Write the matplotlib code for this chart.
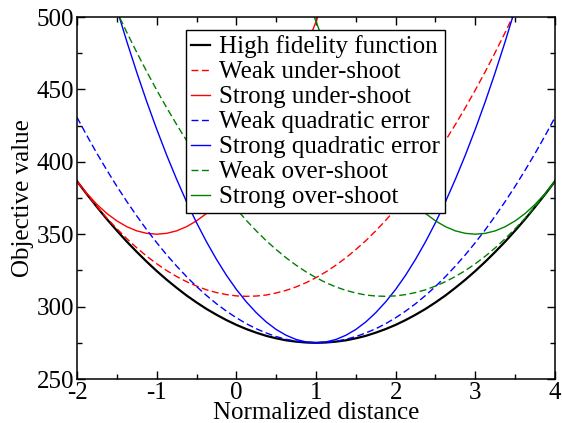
import numpy as np
import matplotlib.pyplot as plt
from matplotlib.ticker import MultipleLocator

# Normalized distance, every 0.125 from -2 to 4
dist = [-2.0, -1.875, -1.75, -1.625, -1.5, -1.375, -1.25, -1.125, -1.0, -0.875, -0.75, -0.625,
        -0.5, -0.375, -0.25, -0.125, 0.0, 0.125, 0.25, 0.375, 0.5, 0.625, 0.75, 0.875,
        1.0, 1.125, 1.25, 1.375, 1.5, 1.625, 1.75, 1.875, 2.0, 2.125, 2.25, 2.375,
        2.5, 2.625, 2.75, 2.875, 3.0, 3.125, 3.25, 3.375, 3.5, 3.625, 3.75, 3.875, 4.0]

high_fidelity = [386.6, 377.5, 368.8, 360.4, 352.5, 344.9, 337.8, 331.0, 324.6, 318.6, 313.0, 307.7,
                 302.9, 298.4, 294.4, 290.7, 287.4, 284.5, 282.0, 279.8, 278.1, 276.7, 275.8, 275.2,
                 275.0, 275.2, 275.8, 276.7, 278.1, 279.8, 282.0, 284.5, 287.4, 290.7, 294.4, 298.4,
                 302.9, 307.7, 313.0, 318.6, 324.6, 331.0, 337.8, 344.9, 352.5, 360.4, 368.8, 377.5, 386.6]

weak_under = [386.6, 377.6, 369.1, 361.1, 353.8, 346.9, 340.6, 334.8, 329.6, 324.9, 320.8, 317.2,
              314.2, 311.6, 309.7, 308.3, 307.4, 307.1, 307.3, 308.0, 309.4, 311.2, 313.6, 316.5,
              320.0, 324.0, 328.6, 333.7, 339.4, 345.5, 352.3, 359.6, 367.4, 375.8, 384.7, 394.1,
              404.2, 414.7, 425.8, 437.4, 449.6, 462.3, 475.6, 489.4, 503.8, 518.6, 534.1, 550.1, 566.6]

# strong under-shoot only on -2 .. 1.25, it leaves the top of the axes near 1
strong_under = [386.7, 378.1, 370.6, 364.3, 359.2, 355.2, 352.3, 350.6, 350.0, 350.6, 352.3, 355.2,
                359.2, 364.3, 370.6, 378.1, 386.7, 396.4, 407.3, 419.4, 432.6, 446.9, 462.4, 479.0,
                496.8, 515.7, 535.8]

weak_quad = [430.7, 418.0, 405.8, 394.2, 383.1, 372.6, 362.6, 353.1, 344.2, 335.8, 328.0, 320.7,
             313.9, 307.7, 302.0, 296.9, 292.3, 288.2, 284.7, 281.8, 279.3, 277.4, 276.1, 275.3,
             275.0, 275.3, 276.1, 277.4, 279.3, 281.8, 284.7, 288.2, 292.3, 296.9, 302.0, 307.7,
             313.9, 320.7, 328.0, 335.8, 344.2, 353.1, 362.6, 372.6, 383.1, 394.2, 405.8, 418.0, 430.7]

strong_quad = [607.1, 580.0, 554.1, 529.3, 505.6, 483.1, 461.8, 441.6, 422.6, 404.7, 388.0, 372.4,
               358.0, 344.8, 332.7, 321.7, 311.9, 303.3, 295.8, 289.4, 284.2, 280.2, 277.3, 275.6,
               275.0, 275.6, 277.3, 280.2, 284.2, 289.4, 295.8, 303.3, 311.9, 321.7, 332.7, 344.8,
               358.0, 372.4, 388.0, 404.7, 422.6, 441.6, 461.8, 483.1, 505.6, 529.3, 554.1, 580.0, 607.1]

# over-shoot curves mirror the under-shoot ones about the optimum at 1
weak_over = weak_under[::-1]
strong_over = strong_under[::-1]

plt.rcParams['font.family'] = ['Liberation Serif', 'DejaVu Serif']
plt.rcParams['font.size'] = 18
plt.rcParams['axes.unicode_minus'] = False

fig = plt.figure(figsize=(5.62, 4.23), dpi=100)
ax = fig.add_axes([77 / 562, 1 - 379 / 423, 478 / 562, 362 / 423])

n = len(strong_under)
dash = (0, (5, 2.5))
ax.plot(dist, high_fidelity, color='black', lw=1.6, label='High fidelity function')
ax.plot(dist, weak_under, color='red', lw=1.0, ls=dash, label='Weak under-shoot')
ax.plot(dist[:n], strong_under, color='red', lw=1.0, label='Strong under-shoot')
ax.plot(dist, weak_quad, color='blue', lw=1.0, ls=dash, label='Weak quadratic error')
ax.plot(dist, strong_quad, color='blue', lw=1.0, label='Strong quadratic error')
ax.plot(dist, weak_over, color='green', lw=1.0, ls=dash, label='Weak over-shoot')
ax.plot(dist[-n:], strong_over, color='green', lw=1.0, label='Strong over-shoot')

ax.set_xlim(-2, 4)
ax.set_ylim(250, 500)
ax.xaxis.set_major_locator(MultipleLocator(1))
ax.xaxis.set_minor_locator(MultipleLocator(0.5))
ax.yaxis.set_major_locator(MultipleLocator(50))
ax.yaxis.set_minor_locator(MultipleLocator(25))
ax.tick_params(which='both', direction='in', top=True, right=True, width=1.0)
ax.tick_params(which='major', length=6, pad=2)
ax.tick_params(which='minor', length=3.5)
for sp in ax.spines.values():
    sp.set_linewidth(1.1)

ax.set_xlabel('Normalized distance', labelpad=-1.5)
ax.set_ylabel('Objective value', labelpad=2)

leg = ax.legend(loc='upper left', bbox_to_anchor=(0.229, 0.963), borderaxespad=0,
                handlelength=0.75, handletextpad=0.35, borderpad=0.2,
                labelspacing=0.1, fancybox=False, framealpha=1)
leg.get_frame().set_edgecolor('black')
leg.get_frame().set_linewidth(1.0)

fig.savefig('out.png', dpi=100)
